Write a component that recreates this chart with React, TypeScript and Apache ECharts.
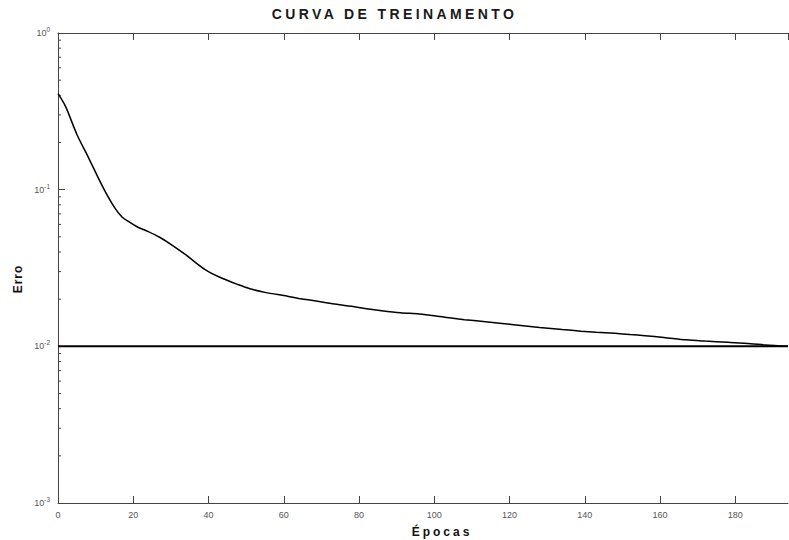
import React, { useEffect, useRef } from "react";
import * as echarts from "echarts";

const titleText = "CURVA DE TREINAMENTO";
const xAxisTitle = "Épocas";
const yAxisTitle = "Erro";

const epochs = [
  0, 2, 5, 8, 12, 15, 17, 19, 21, 24, 27, 30, 34, 39, 43, 48, 51, 55, 61, 64,
  69, 73, 78, 82, 86, 91, 96, 100, 104, 108, 113, 118, 123, 128, 134, 139, 143,
  148, 152, 156, 161, 167, 172, 178, 184, 188, 194,
];
const errors = [
  0.41, 0.34, 0.226, 0.162, 0.103, 0.077, 0.067, 0.062, 0.058, 0.054, 0.0497,
  0.0448, 0.0383, 0.031, 0.0276, 0.0247, 0.0233, 0.0221, 0.0209, 0.0202, 0.0194,
  0.0187, 0.018, 0.0174, 0.0169, 0.0164, 0.0161, 0.0157, 0.0152, 0.0148,
  0.0144, 0.014, 0.0136, 0.0132, 0.0128, 0.0125, 0.0123, 0.0121, 0.0119,
  0.0117, 0.0114, 0.011, 0.0108, 0.0106, 0.0104, 0.0102, 0.01,
];
const goalEpochs = [0, 194];
const goalValues = [0.01, 0.01];

const xMin = 0;
const xMax = 194;
const xInterval = 20;
const yMin = 0.001;
const yMax = 1;
const minorTickValues = [
  0.002, 0.003, 0.004, 0.005, 0.006, 0.007, 0.008, 0.009,
  0.02, 0.03, 0.04, 0.05, 0.06, 0.07, 0.08, 0.09,
  0.2, 0.3, 0.4, 0.5, 0.6, 0.7, 0.8, 0.9,
];

const FONT = "'Liberation Sans', Arial, sans-serif";

export default function App() {
  const ref = useRef<HTMLDivElement>(null);

  useEffect(() => {
    const chart = echarts.init(ref.current!, null, { renderer: "svg" });
    const axisColor = "#444";
    chart.setOption({
      animation: false,
      backgroundColor: "#ffffff",
      title: {
        text: titleText,
        left: "center",
        top: 7,
        padding: 0,
        textStyle: {
          fontFamily: "'Liberation Sans', TTLSP",
          fontSize: 14,
          fontWeight: "bold",
          color: "#1a1a1a",
        },
      },
      grid: { left: 58, right: 1, top: 33, bottom: 37, containLabel: false },
      xAxis: [
        {
          type: "value",
          min: xMin,
          max: xMax,
          interval: xInterval,
          position: "bottom",
          axisLine: { show: true, lineStyle: { color: axisColor, width: 1 } },
          axisTick: { show: true, inside: true, length: 7, lineStyle: { color: axisColor } },
          axisLabel: {
            show: true,
            showMaxLabel: false,
            margin: 7,
            fontFamily: FONT,
            fontSize: 9,
            color: "#555",
          },
          splitLine: { show: false },
        },
        {
          type: "value",
          min: xMin,
          max: xMax,
          interval: xInterval,
          position: "top",
          axisLine: { show: true, lineStyle: { color: axisColor, width: 1 } },
          axisTick: { show: true, inside: true, length: 7, lineStyle: { color: axisColor } },
          axisLabel: { show: false },
          splitLine: { show: false },
        },
      ],
      yAxis: [
        {
          type: "log",
          logBase: 10,
          min: yMin,
          max: yMax,
          axisLine: { show: true, lineStyle: { color: axisColor, width: 1 } },
          axisTick: { show: true, inside: true, length: 7, lineStyle: { color: axisColor } },
          axisLabel: {
            show: true,
            margin: 8,
            formatter: (v: number) => {
              const e = Math.round(Math.log10(v));
              return `{b|10}{s|${e}}`;
            },
            rich: {
              b: { fontFamily: FONT, fontSize: 9, color: "#555", lineHeight: 14, verticalAlign: "middle" },
              s: { fontFamily: FONT, fontSize: 6.5, color: "#555", lineHeight: 14, verticalAlign: "top" },
            },
          },
          splitLine: { show: false },
        },
      ],
      graphic: [
        {
          type: "text",
          x: 442,
          y: 532,
          style: {
            text: xAxisTitle,
            fontFamily: "'Liberation Sans', XLBSP",
            fontSize: 12,
            fontWeight: "bold",
            fill: "#111",
            align: "center",
            verticalAlign: "middle",
          },
        },
        {
          type: "text",
          x: 18,
          y: 279,
          rotation: Math.PI / 2,
          style: {
            text: yAxisTitle,
            fontFamily: "'Liberation Sans', YLBSP",
            fontSize: 12,
            fontWeight: "bold",
            fill: "#111",
            align: "center",
            verticalAlign: "middle",
          },
        },
      ],
      series: [
        {
          type: "line",
          name: "goal",
          xAxisIndex: 0,
          yAxisIndex: 0,
          data: goalEpochs.map((x, i) => [x, goalValues[i]]),
          showSymbol: false,
          symbol: "none",
          lineStyle: { color: "#000", width: 2 },
          silent: true,
        },
        {
          type: "line",
          name: "erro",
          xAxisIndex: 0,
          yAxisIndex: 0,
          data: epochs.map((x, i) => [x, errors[i]]),
          showSymbol: false,
          symbol: "none",
          smooth: 0.3,
          lineStyle: { color: "#000", width: 1.5 },
          silent: true,
        },
        {
          type: "custom",
          name: "minorTicks",
          xAxisIndex: 0,
          yAxisIndex: 0,
          silent: true,
          data: minorTickValues.map((v) => [xMin, v]),
          renderItem: (params: any, api: any) => {
            const p = api.coord([api.value(0), api.value(1)]);
            return {
              type: "line",
              shape: { x1: p[0], y1: p[1], x2: p[0] + 3, y2: p[1] },
              style: { stroke: axisColor, lineWidth: 1 },
            };
          },
        },
      ],
    });
    return () => chart.dispose();
  }, []);

  return (
    <>
      <style>{`
        text[style*="TTLSP"] { letter-spacing: 3.4px; }
        text[style*="XLBSP"] { letter-spacing: 3px; }
        text[style*="YLBSP"] { letter-spacing: 1px; }
      `}</style>
      <div
        ref={ref}
        style={{ position: "fixed", left: 0, top: 0, width: 789, height: 540, background: "#fff" }}
      />
    </>
  );
}
